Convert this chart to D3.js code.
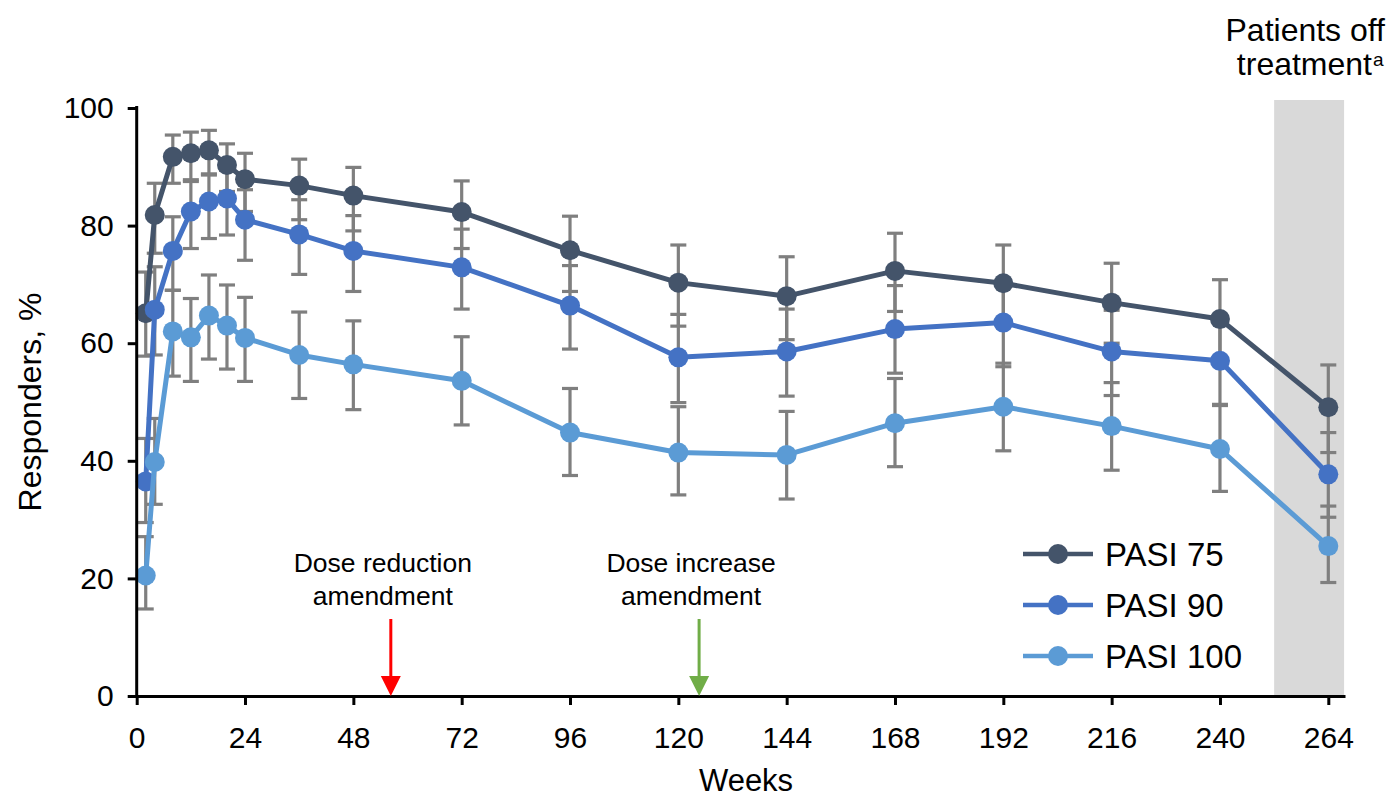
<!DOCTYPE html>
<html>
<head>
<meta charset="utf-8">
<script src="https://cdn.jsdelivr.net/npm/d3@7"></script>
<style>
  html, body { margin: 0; padding: 0; background: #fff; }
  svg { display: block; font-family: "Liberation Sans", Arial, sans-serif; }
</style>
</head>
<body>
<svg id="chart" width="1390" height="798"></svg>
<script>
// ---------- data ----------
const weeks = [2, 4, 8, 12, 16, 20, 24, 36, 48, 72, 96, 120, 144, 168, 192, 216, 240, 264];
const xTicks = [0, 24, 48, 72, 96, 120, 144, 168, 192, 216, 240, 264];
const yTicks = [0, 20, 40, 60, 80, 100];
const seriesNames = ["PASI 75", "PASI 90", "PASI 100"];

const pasi75    = [65.1, 81.8, 91.7, 92.3, 92.8, 90.3, 87.9, 86.8, 85.1, 82.3, 75.8, 70.3, 68.0, 72.3, 70.2, 66.9, 64.1, 49.1];
const pasi75Lo  = [57.8, 75.3, 87.2, 87.5, 88.6, 85.8, 82.4, 81.0, 79.1, 76.1, 68.8, 62.9, 60.6, 65.4, 63.3, 60.0, 57.0, 41.4];
const pasi75Hi  = [72.1, 87.2, 95.4, 95.9, 96.2, 93.9, 92.3, 91.3, 89.9, 87.6, 81.6, 76.7, 74.7, 78.7, 76.7, 73.6, 70.8, 56.3];

const pasi90    = [36.5, 65.7, 75.7, 82.4, 84.1, 84.6, 81.0, 78.5, 75.7, 72.9, 66.4, 57.6, 58.6, 62.4, 63.5, 58.6, 57.0, 37.7];
const pasi90Lo  = [29.5, 58.0, 69.0, 76.1, 77.8, 78.4, 74.1, 71.7, 68.8, 65.8, 59.0, 49.9, 51.0, 54.9, 56.0, 51.1, 49.6, 30.4];
const pasi90Hi  = [43.8, 73.0, 81.5, 87.8, 88.8, 89.4, 86.1, 84.4, 81.7, 79.4, 73.2, 64.9, 65.8, 69.8, 70.6, 65.6, 64.2, 44.8];

const pasi100   = [20.5, 39.8, 62.0, 61.0, 64.7, 63.0, 60.9, 58.0, 56.4, 53.6, 44.8, 41.4, 41.0, 46.4, 49.2, 45.9, 42.0, 25.5];
const pasi100Lo = [14.8, 32.6, 54.4, 53.5, 57.3, 55.6, 53.5, 50.6, 48.7, 46.1, 37.5, 34.2, 33.5, 39.0, 41.7, 38.4, 34.8, 19.3];
const pasi100Hi = [27.1, 47.2, 69.0, 67.6, 71.6, 69.9, 67.8, 65.3, 63.8, 61.1, 52.3, 49.2, 48.4, 54.0, 56.6, 53.3, 49.4, 32.3];

const offTreatment = [252, 267.5];          // shaded band, weeks
const amendments = [
  { week: 56.3,  lines: ["Dose reduction", "amendment"], color: "#FF0000" },
  { week: 124.6, lines: ["Dose increase", "amendment"],  color: "#70AD47" }
];
const colors = ["#44546A", "#4472C4", "#5B9BD5"];

// ---------- setup ----------
const svg = d3.select("#chart");
const x = d3.scaleLinear().domain([0, 267.7]).range([136.7, 1345]);
const y = d3.scaleLinear().domain([0, 100]).range([696, 108]);

const series = [
  { name: seriesNames[0], v: pasi75,  lo: pasi75Lo,  hi: pasi75Hi,  color: colors[0] },
  { name: seriesNames[1], v: pasi90,  lo: pasi90Lo,  hi: pasi90Hi,  color: colors[1] },
  { name: seriesNames[2], v: pasi100, lo: pasi100Lo, hi: pasi100Hi, color: colors[2] }
];

// shaded band
svg.append("rect")
  .attr("x", x(offTreatment[0])).attr("y", 100)
  .attr("width", x(offTreatment[1]) - x(offTreatment[0]))
  .attr("height", y(0) - 100)
  .attr("fill", "#D9D9D9");

// header
svg.append("text").attr("text-anchor", "end").attr("font-size", 32).attr("fill", "#000")
  .attr("x", 1385).attr("y", 41).text("Patients off");
svg.append("text").attr("text-anchor", "end").attr("font-size", 32).attr("fill", "#000")
  .attr("x", 1372).attr("y", 75).text("treatment");
svg.append("text").attr("text-anchor", "start").attr("font-size", 19).attr("fill", "#000")
  .attr("x", 1373).attr("y", 66).text("a");

// error bars
series.forEach(s => {
  const g = svg.append("g").attr("stroke", "#7F7F7F").attr("stroke-width", 3.2).attr("fill", "none");
  weeks.forEach((w, i) => {
    const cx = x(w);
    g.append("line").attr("x1", cx).attr("x2", cx).attr("y1", y(s.lo[i])).attr("y2", y(s.hi[i]));
    g.append("line").attr("x1", cx - 8).attr("x2", cx + 8).attr("y1", y(s.lo[i])).attr("y2", y(s.lo[i]));
    g.append("line").attr("x1", cx - 8).attr("x2", cx + 8).attr("y1", y(s.hi[i])).attr("y2", y(s.hi[i]));
  });
});

// lines & markers
const line = d3.line().x(d => x(d[0])).y(d => y(d[1]));
series.forEach(s => {
  const pts = weeks.map((w, i) => [w, s.v[i]]);
  svg.append("path").datum(pts).attr("d", line)
    .attr("fill", "none").attr("stroke", s.color).attr("stroke-width", 5).attr("stroke-linejoin", "round");
  svg.append("g").selectAll("circle").data(pts).join("circle")
    .attr("cx", d => x(d[0])).attr("cy", d => y(d[1])).attr("r", 10).attr("fill", s.color);
});

// axes
const yAxis = svg.append("g").attr("transform", `translate(${x(0)},0)`)
  .call(d3.axisLeft(y).tickValues(yTicks).tickSize(9).tickSizeOuter(0).tickPadding(14));
const xAxis = svg.append("g").attr("transform", `translate(0,${y(0)})`)
  .call(d3.axisBottom(x).tickValues(xTicks).tickSize(9).tickSizeOuter(0).tickPadding(22));
[yAxis, xAxis].forEach(a => {
  a.selectAll("path.domain").attr("stroke", "#000").attr("stroke-width", 3);
  a.selectAll(".tick line").attr("stroke", "#000").attr("stroke-width", 3);
  a.selectAll(".tick text").attr("font-size", 30).attr("fill", "#000")
    .attr("font-family", "'Liberation Sans', Arial, sans-serif");
});
yAxis.select("path.domain").attr("d", `M0,${y(0) + 1.5}V${y(100) - 2}`);

// axis titles
svg.append("text").attr("x", x(135)).attr("y", 791).attr("text-anchor", "middle")
  .attr("font-size", 31).attr("fill", "#000").text("Weeks");
svg.append("text").attr("transform", `translate(41,${y(50)}) rotate(-90)`).attr("text-anchor", "middle")
  .attr("font-size", 32).attr("fill", "#000").text("Responders, %");

// amendment arrows
amendments.forEach(a => {
  const ax = x(a.week);
  const t = svg.append("text").attr("text-anchor", "middle").attr("font-size", 26.5).attr("fill", "#000");
  t.append("tspan").attr("x", ax - 8).attr("y", 572).text(a.lines[0]);
  t.append("tspan").attr("x", ax - 8).attr("y", 605).text(a.lines[1]);
  svg.append("line").attr("x1", ax).attr("x2", ax).attr("y1", 619).attr("y2", 678)
    .attr("stroke", a.color).attr("stroke-width", 3);
  svg.append("path")
    .attr("d", `M${ax - 10},${676}L${ax + 10},${676}L${ax},${y(0)}Z`)
    .attr("fill", a.color);
});

// legend
const lg = svg.append("g");
series.forEach((s, i) => {
  const ly = 554 + i * 51;
  lg.append("line").attr("x1", 1023).attr("x2", 1093).attr("y1", ly).attr("y2", ly)
    .attr("stroke", s.color).attr("stroke-width", 4.5);
  lg.append("circle").attr("cx", 1058).attr("cy", ly).attr("r", 10).attr("fill", s.color);
  lg.append("text").attr("x", 1105).attr("y", ly + 12).attr("font-size", 33).attr("fill", "#000").text(s.name);
});
</script>
</body>
</html>
